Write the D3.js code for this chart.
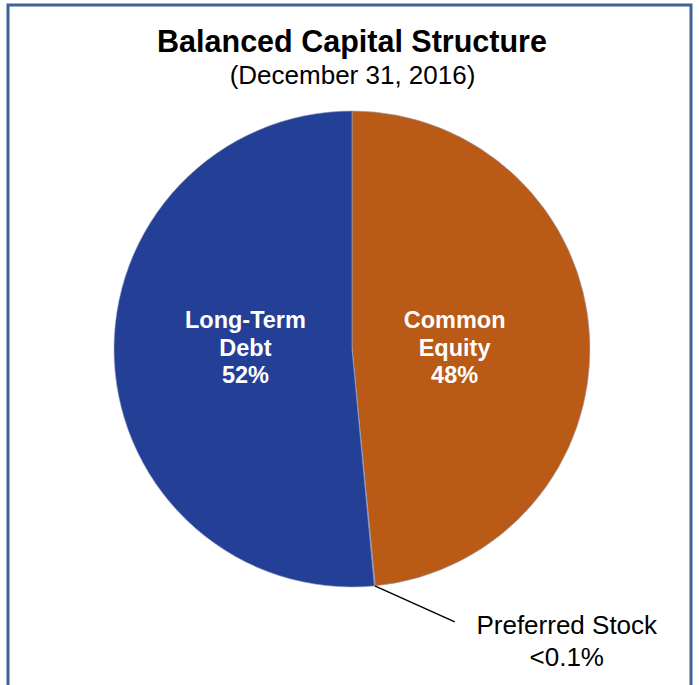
<!DOCTYPE html>
<html>
<head>
<meta charset="utf-8">
<script src="https://cdn.jsdelivr.net/npm/d3@7"></script>
<style>
  body { margin: 0; background: #fff; }
  text { font-family: "Liberation Sans", Arial, sans-serif; }
</style>
</head>
<body>
<div id="chart"></div>
<script>
// data
var categories = ["Common Equity", "Preferred Stock", "Long-Term Debt"];
var values = [48.45, 0.05, 51.5];
var labelLines = [["Common", "Equity", "48%"], ["Preferred Stock", "<0.1%"], ["Long-Term", "Debt", "52%"]];
var colors = ["#B95A16", "#B95A16", "#243F96"];

var width = 699, height = 685;
var cx = 352, cy = 349, radius = 238;

var svg = d3.select("#chart")
    .append("svg")
    .attr("width", width)
    .attr("height", height);

// frame
svg.append("rect")
    .attr("x", 8).attr("y", 5)
    .attr("width", 683).attr("height", 700)
    .attr("fill", "none")
    .attr("stroke", "#3D6398")
    .attr("stroke-width", 3);

svg.append("text")
    .attr("x", 352).attr("y", 52)
    .attr("text-anchor", "middle")
    .attr("font-size", 30.5)
    .attr("font-weight", "bold")
    .text("Balanced Capital Structure");

svg.append("text")
    .attr("x", 352.5).attr("y", 84)
    .attr("text-anchor", "middle")
    .attr("font-size", 26)
    .text("(December 31, 2016)");

var pie = d3.pie().sort(null).value(function (d) { return d; });
var arcs = pie(values);

var arc = d3.arc().innerRadius(0).outerRadius(radius);

var g = svg.append("g")
    .attr("transform", "translate(" + cx + "," + cy + ")");

g.selectAll("path")
    .data(arcs)
    .enter()
    .append("path")
    .attr("d", arc)
    .attr("fill", function (d, i) { return colors[i]; })
    .attr("stroke", "#9aa6c8")
    .attr("stroke-width", 0.6);

// labels inside the two big slices
var labelArc = d3.arc().innerRadius(radius * 0.44).outerRadius(radius * 0.44);
[0, 2].forEach(function (i) {
    var c = labelArc.centroid(arcs[i]);
    var t = g.append("text")
        .attr("text-anchor", "middle")
        .attr("fill", "#fff")
        .attr("font-weight", "bold")
        .attr("font-size", 23.5);
    labelLines[i].forEach(function (line, j) {
        t.append("tspan")
            .attr("x", i === 0 ? c[0] - 2 : c[0] - 2)
            .attr("y", -21 + j * 27.5)
            .text(line);
    });
});

// leader line for preferred stock
var p = arcs[1];
var mid = (p.startAngle + p.endAngle) / 2;
var x0 = Math.sin(mid) * radius, y0 = -Math.cos(mid) * radius;
g.append("line")
    .attr("x1", x0).attr("y1", y0)
    .attr("x2", x0 + 80).attr("y2", y0 + 36)
    .attr("stroke", "#000")
    .attr("stroke-width", 1.5);

var pt = g.append("text")
    .attr("text-anchor", "middle")
    .attr("font-size", 26)
    .attr("fill", "#000");
labelLines[1].forEach(function (line, j) {
    pt.append("tspan")
        .attr("x", x0 + 192)
        .attr("y", y0 + 48 + j * 32)
        .text(line);
});
</script>
</body>
</html>
